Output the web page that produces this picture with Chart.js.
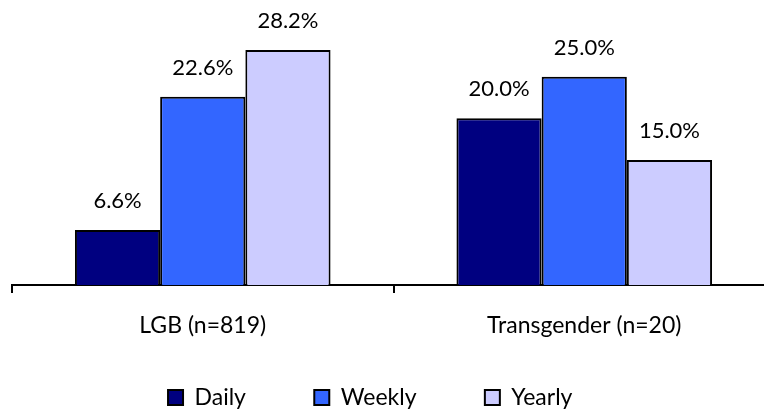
<!DOCTYPE html>
<html>
<head>
<meta charset="utf-8">
<script src="https://cdn.jsdelivr.net/npm/chart.js@4.4.0/dist/chart.umd.min.js"></script>
<style>
  html, body { margin: 0; padding: 0; background: #fff; overflow: hidden; }
  #wrap { position: relative; width: 775px; height: 411px; }
</style>
</head>
<body>
<div id="wrap"><canvas id="chartCanvasId"></canvas></div>
<script>
"use strict";

// chart data
const categories = ["LGB (n=819)", "Transgender (n=20)"]
const daily      = [6.6, 20.0]
const weekly     = [22.6, 25.0]
const yearly     = [28.2, 15.0]
const fontName   = "Lato, 'Open Sans', sans-serif"

// legend text widths (incl. trailing space) so the items land where the original has them
const legendTextWidths = [111, 136, 105]

function padTo(text, width) {
    const ctx = document.createElement("canvas").getContext("2d")
    ctx.font = "23px " + fontName
    let s = text
    // add spaces until we are as close as we can get to the wanted width
    while (Math.abs(ctx.measureText(s + "\u00a0").width - width) < Math.abs(ctx.measureText(s).width - width)) {
        s += "\u00a0"
    }
    return s
}

// draws the value above each bar
const valueLabels = {
    id: "valueLabels",
    afterDatasetsDraw(chart) {
        const ctx = chart.ctx
        ctx.save()
        ctx.font = "22px " + fontName
        ctx.fillStyle = "#000"
        ctx.textAlign = "center"
        ctx.textBaseline = "middle"
        chart.data.datasets.forEach((ds, i) => {
            chart.getDatasetMeta(i).data.forEach((bar, j) => {
                ctx.fillText(ds.data[j].toFixed(1) + "%", bar.x, bar.y - 29)
            })
        })
        ctx.restore()
    }
}

const chartContext = document.getElementById("chartCanvasId").getContext("2d")

const myChart = new Chart(chartContext, {
    type: "bar",
    data: {
        labels: categories,
        datasets: [
            { label: "Daily",  data: daily,  backgroundColor: "#000080" },
            { label: "Weekly", data: weekly, backgroundColor: "#3366FF" },
            { label: "Yearly", data: yearly, backgroundColor: "#CCCCFF" }
        ]
    },
    options: {
        responsive: true,
        maintainAspectRatio: false,
        animation: false,
        layout: { padding: { left: 12, top: 35, right: 0, bottom: -8 } },
        datasets: {
            bar: {
                borderColor: "#000",
                borderWidth: 2,
                borderSkipped: "bottom",
                categoryPercentage: 0.67,
                barPercentage: 1.0
            }
        },
        scales: {
            x: {
                afterFit(scale) { scale.height = 91 },
                grid: {
                    offset: true,
                    drawOnChartArea: false,
                    color: "#000",
                    lineWidth: 2,
                    tickLength: 8
                },
                border: { color: "#000", width: 2 },
                ticks: {
                    color: "#000",
                    padding: 19,
                    font: { family: fontName, size: 23 }
                }
            },
            y: {
                display: false,
                min: 0,
                max: 30
            }
        },
        plugins: {
            legend: {
                position: "bottom",
                labels: {
                    color: "#000",
                    boxWidth: 15,
                    boxHeight: 15,
                    padding: 10,
                    font: { family: fontName, size: 23 },
                    generateLabels(chart) {
                        const items = Chart.defaults.plugins.legend.labels.generateLabels(chart)
                        items.forEach((it, i) => {
                            it.strokeStyle = "#000"
                            it.lineWidth = 2
                            it.text = padTo(it.text, legendTextWidths[i])
                        })
                        return items
                    }
                }
            },
            tooltip: { enabled: false }
        }
    },
    plugins: [valueLabels]
})
</script>
</body>
</html>
